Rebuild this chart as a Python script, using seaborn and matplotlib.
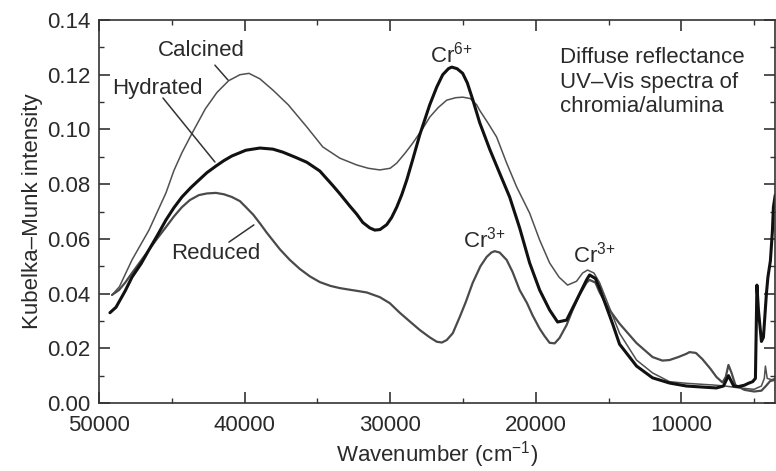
import numpy as np
import pandas as pd
import matplotlib
matplotlib.use("Agg")
import matplotlib.pyplot as plt
from matplotlib.ticker import MultipleLocator, FormatStrFormatter
import seaborn as sns

# ---------------- data ----------------
calcined_wn = [49100, 48600, 47735, 46569, 45402, 44853, 44304, 43618, 42700, 41902, 41100,
               40323, 39700, 38951, 38058, 37000, 35725, 34627, 33460, 32293, 31500,
               30715, 30000, 29548, 28950, 28450, 27800, 27283, 26700, 26117, 25500,
               25019, 24500, 24058, 23852, 23300, 22685, 21999, 21313, 20420, 19734,
               19048, 18400, 17813, 17200, 16783, 16440, 16000, 15617, 14724, 14244,
               13077, 11979, 10813, 9646, 8500, 7862, 7000, 6000, 5000, 4500,
               4300, 4224, 4100, 3800, 3550]
calcined_km = [0.0395, 0.0425, 0.0523, 0.0632, 0.0768, 0.0850, 0.0915, 0.0985, 0.1075, 0.1135, 0.1178,
               0.1200, 0.1205, 0.1185, 0.1144, 0.1090, 0.1009, 0.0936, 0.0895, 0.0870, 0.0858,
               0.0852, 0.0858, 0.0877, 0.0915, 0.0950, 0.1000, 0.1045, 0.1080, 0.1107, 0.1116,
               0.1118, 0.1113, 0.1090, 0.1070, 0.1025, 0.0972, 0.0877, 0.0790, 0.0694, 0.0596,
               0.0512, 0.0460, 0.0431, 0.0445, 0.0475, 0.0486, 0.0475, 0.0440, 0.0320, 0.0255,
               0.0157, 0.0110, 0.0078, 0.0072, 0.0068, 0.0066, 0.0062, 0.0055, 0.0050, 0.0062,
               0.0090, 0.0135, 0.0090, 0.0085, 0.0090]

hydrated_wn = [49250, 48833, 48200, 47735, 47100, 46569, 46000, 45402, 44853, 44304,
               43700, 43137, 42588, 41970, 41421, 40872, 40323, 39911, 38951, 38058,
               37372, 36500, 35725, 34833, 33941, 33460, 32774, 32293, 31882, 31400,
               31058, 30700, 30235, 29900, 29548, 29200, 28862, 28450, 27970, 27283,
               26800, 26391, 26000, 25774, 25400, 25019, 24700, 24333, 23852, 23166,
               22479, 21793, 21107, 20420, 19734, 19048, 18499, 17881, 17195, 16509,
               16303, 15900, 15617, 14724, 14244, 13077, 11979, 10813, 9646, 8500,
               7587, 7106, 6763, 6400, 6077, 5665, 5390, 5100, 4910, 4807,
               4704, 4498, 4361, 4155, 4052, 3881, 3743, 3675, 3550]
hydrated_km = [0.0330, 0.0350, 0.0410, 0.0460, 0.0510, 0.0560, 0.0612, 0.0669, 0.0714, 0.0753,
               0.0787, 0.0815, 0.0842, 0.0866, 0.0886, 0.0903, 0.0915, 0.0924, 0.0932, 0.0928,
               0.0917, 0.0898, 0.0880, 0.0848, 0.0795, 0.0765, 0.0720, 0.0690, 0.0660, 0.0640,
               0.0632, 0.0634, 0.0652, 0.0678, 0.0716, 0.0762, 0.0815, 0.0890, 0.0980, 0.1090,
               0.1155, 0.1200, 0.1222, 0.1228, 0.1222, 0.1205, 0.1170, 0.1110, 0.1025, 0.0928,
               0.0840, 0.0753, 0.0640, 0.0512, 0.0413, 0.0340, 0.0296, 0.0303, 0.0376, 0.0450,
               0.0468, 0.0455, 0.0420, 0.0290, 0.0215, 0.0135, 0.0092, 0.0073, 0.0062, 0.0058,
               0.0055, 0.0062, 0.0100, 0.0062, 0.0060, 0.0065, 0.0072, 0.0078, 0.0090, 0.0431,
               0.0340, 0.0225, 0.0240, 0.0400, 0.0460, 0.0520, 0.0630, 0.0716, 0.0760]

reduced_wn = [49108, 48627, 48200, 47735, 47186, 46569, 46020, 45402, 44853, 44304,
              43755, 43137, 42588, 41970, 41421, 40872, 40323, 39911, 39400, 38951,
              38470, 37578, 36892, 36205, 35519, 34833, 34100, 33460, 32774, 32293,
              31607, 30715, 30029, 29343, 28650, 27970, 27283, 26803, 26450, 26117,
              25700, 25225, 24800, 24333, 23800, 23372, 23050, 22823, 22479, 21999,
              21600, 21107, 20600, 20214, 19734, 19400, 19048, 18700, 18362, 17881,
              17470, 17000, 16509, 16303, 15900, 15617, 15000, 14244, 13077, 11979,
              11300, 10813, 10200, 9646, 9440, 9000, 8548, 8000, 7587, 7175,
              6950, 6763, 6550, 6283, 5665, 5000, 4500, 4224, 3900, 3550]
reduced_km = [0.0395, 0.0413, 0.0440, 0.0475, 0.0515, 0.0560, 0.0600, 0.0643, 0.0682, 0.0716,
              0.0742, 0.0760, 0.0766, 0.0768, 0.0763, 0.0753, 0.0738, 0.0716, 0.0688, 0.0657,
              0.0622, 0.0562, 0.0523, 0.0490, 0.0463, 0.0442, 0.0428, 0.0420, 0.0414, 0.0410,
              0.0404, 0.0387, 0.0365, 0.0330, 0.0298, 0.0267, 0.0240, 0.0224, 0.0221, 0.0230,
              0.0255, 0.0314, 0.0370, 0.0439, 0.0500, 0.0534, 0.0550, 0.0555, 0.0550, 0.0523,
              0.0480, 0.0413, 0.0365, 0.0320, 0.0272, 0.0245, 0.0220, 0.0218, 0.0238, 0.0285,
              0.0340, 0.0395, 0.0440, 0.0450, 0.0440, 0.0405, 0.0345, 0.0290, 0.0219, 0.0168,
              0.0155, 0.0157, 0.0168, 0.0180, 0.0186, 0.0183, 0.0160, 0.0125, 0.0095, 0.0075,
              0.0095, 0.0139, 0.0110, 0.0065, 0.0048, 0.0042, 0.0045, 0.0060, 0.0080, 0.0085]

x_ticks = [50000, 40000, 30000, 20000, 10000]
y_ticks = [0.00, 0.02, 0.04, 0.06, 0.08, 0.10, 0.12, 0.14]

# ---------------- style ----------------
sns.set_theme(style="ticks")
plt.rcParams['font.family'] = ['Liberation Sans', 'DejaVu Sans']
plt.rcParams['mathtext.fontset'] = 'custom'
plt.rcParams['mathtext.rm'] = 'Liberation Sans'
plt.rcParams['mathtext.it'] = 'Liberation Sans:italic'
plt.rcParams['mathtext.bf'] = 'Liberation Sans:bold'
TXT = '#2a2a2a'
FS = 16

fig = plt.figure(figsize=(7.76, 4.71), dpi=100)
ax = fig.add_axes([0.1276, 0.1444, 0.8714, 0.8131])

sns.lineplot(x=calcined_wn, y=calcined_km, ax=ax, color='#505050', lw=1.1, estimator=None)
sns.lineplot(x=reduced_wn, y=reduced_km, ax=ax, color='#4a4a4a', lw=1.6, estimator=None)
sns.lineplot(x=hydrated_wn, y=hydrated_km, ax=ax, color='#111111', lw=2.2, estimator=None)

ax.set_xlim(50000, 3550)
ax.set_ylim(0, 0.14)
ax.set_xticks(x_ticks)
ax.set_yticks(y_ticks)
ax.xaxis.set_minor_locator(MultipleLocator(5000))
ax.yaxis.set_minor_locator(MultipleLocator(0.01))
ax.xaxis.set_major_formatter(FormatStrFormatter('%d'))
ax.yaxis.set_major_formatter(FormatStrFormatter('%.2f'))
ax.tick_params(which='both', direction='in', top=True, right=True,
               colors='#333333', labelcolor=TXT, labelsize=FS)
ax.tick_params(which='major', length=8, width=1.2)
ax.tick_params(which='minor', length=3.5, width=1.0)
ax.tick_params(axis='y', which='major', pad=6)
ax.tick_params(axis='x', which='major', pad=9)
for sp in ax.spines.values():
    sp.set_color('#333333')
    sp.set_linewidth(1.2)

ax.set_xlabel('Wavenumber (cm$^{-1}$)', fontsize=FS, color=TXT, labelpad=2)
ax.set_ylabel('Kubelka\u2013Munk intensity', fontsize=FS, color=TXT, labelpad=3)

# ---------------- annotations ----------------
ax.text(43000, 0.129, 'Calcined', fontsize=FS, color=TXT, ha='center', va='center')
ax.plot([42039, 41147], [0.1235, 0.1181], color='#333333', lw=1.1)
ax.text(46019, 0.1151, 'Hydrated', fontsize=FS, color=TXT, ha='center', va='center')
ax.plot([45608, 42039], [0.1115, 0.0881], color='#333333', lw=1.1)
ax.text(41970, 0.0548, 'Reduced', fontsize=FS, color=TXT, ha='center', va='center')
ax.plot([41078, 39362], [0.0588, 0.0651], color='#333333', lw=1.1)

ax.text(25774, 0.1246, 'Cr$^{6{+}}$', fontsize=FS, color=TXT, ha='center', va='baseline')
ax.text(23508, 0.0567, 'Cr$^{3{+}}$', fontsize=FS, color=TXT, ha='center', va='baseline')
ax.text(15959, 0.0512, 'Cr$^{3{+}}$', fontsize=FS, color=TXT, ha='center', va='baseline')

ax.text(18362, 0.1300, 'Diffuse reflectance\nUV\u2013Vis spectra of\nchromia/alumina',
        fontsize=FS, color=TXT, ha='left', va='top', linespacing=1.2)

fig.savefig('out.png', dpi=100)
